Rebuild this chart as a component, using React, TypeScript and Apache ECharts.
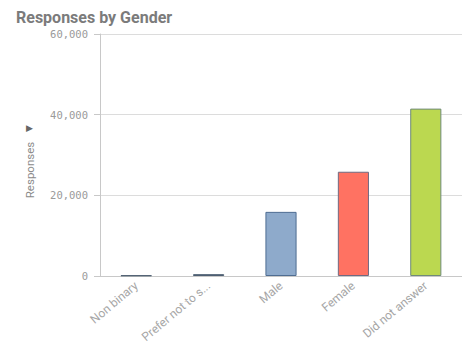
import React, { useEffect, useRef } from "react";
import * as echarts from "echarts";

const categories = ["Non binary", "Prefer not to say", "Male", "Female", "Did not answer"];
const responses = [150, 450, 15900, 25850, 41500];
const fills = ["#4e5f72", "#4e5f72", "#8eaacb", "#ff7262", "#bbd850"];
const borders = ["#4e5f72", "#4e5f72", "#4f6d92", "#6f6a82", "#6f8a7a"];
const yTicks = [0, 20000, 40000, 60000];

export default function App() {
  const ref = useRef<HTMLDivElement>(null);
  useEffect(() => {
    const chart = echarts.init(ref.current!, null, { renderer: "svg" });
    chart.setOption({
      animation: false,
      backgroundColor: "#ffffff",
      title: {
        text: "Responses by Gender",
        left: 11,
        top: 4,
        textStyle: { fontFamily: "Roboto", fontWeight: "bold", fontSize: 16, color: "#7b7b7b" },
      },
      grid: { left: 100, right: 0, top: 34, bottom: 70, containLabel: false },
      xAxis: {
        type: "category",
        data: categories,
        axisLine: { show: true, lineStyle: { color: "#c8c8c8" } },
        axisTick: { show: false },
        axisLabel: {
          rotate: 40,
          interval: 0,
          color: "#a6a6a6",
          fontFamily: "Roboto",
          fontSize: 12,
          margin: 8,
          formatter: (v: string) => (v.length > 15 ? v.slice(0, 15) + "..." : v),
        },
      },
      yAxis: {
        type: "value",
        min: yTicks[0],
        max: yTicks[yTicks.length - 1],
        interval: 20000,
        axisLine: { show: true, lineStyle: { color: "#c8c8c8" } },
        axisTick: { show: true, length: 6, lineStyle: { color: "#c8c8c8" } },
        splitLine: { show: true, lineStyle: { color: "#dcdcdc" } },
        axisLabel: {
          color: "#9a9a9a",
          fontFamily: "DejaVu Sans Mono",
          fontSize: 10.5,
          margin: 12,
          formatter: (v: number) => v.toLocaleString("en-US"),
        },
      },
      graphic: [
        {
          type: "text",
          x: 29,
          y: 128,
          style: { text: "▶", fill: "#666", fontSize: 9, align: "center", verticalAlign: "middle" },
        },
        {
          type: "text",
          x: 30,
          y: 170,
          rotation: Math.PI / 2,
          style: {
            text: "Responses",
            fill: "#8a8a8a",
            fontSize: 11.5,
            fontFamily: "Roboto",
            align: "center",
            verticalAlign: "middle",
          },
        },
      ],
      series: [
        {
          type: "bar",
          barWidth: "43%",
          data: responses.map((v, i) => ({
            value: v,
            itemStyle: { color: fills[i], borderColor: borders[i], borderWidth: 1 },
          })),
        },
      ],
    });
    return () => chart.dispose();
  }, []);
  return (
    <div
      ref={ref}
      style={{ position: "absolute", left: 0, top: 0, width: 462, height: 346 }}
    />
  );
}
